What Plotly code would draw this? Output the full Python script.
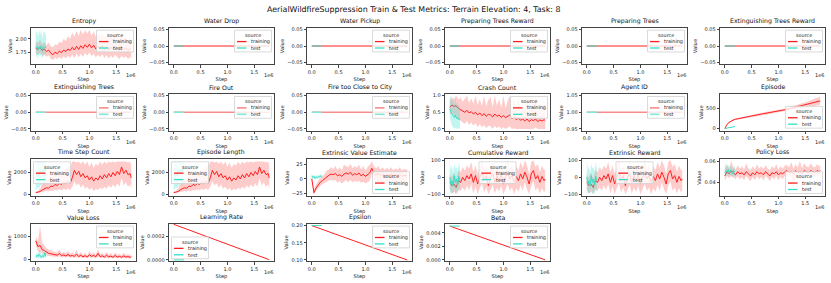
import plotly.graph_objects as go

# ---------------- DATA ----------------
TRAIN_K = [0, 40, 80, 120, 160, 200, 240, 280, 320, 360, 400, 440, 480, 520, 560, 600, 640, 680, 720, 760,
           800, 840, 880, 920, 960, 1000, 1040, 1080, 1120, 1160, 1200, 1240, 1280, 1320, 1360, 1400, 1440,
           1480, 1520, 1560, 1600, 1640, 1680, 1720, 1760, 1780]
TEST_K = [0, 21, 42, 63, 84, 105, 126, 147, 168, 189]
CONST_K = [0, 1780]
CONST_TEST_K = [0, 189]

ENTROPY_TRAIN = [1.82, 1.80, 1.84, 1.78, 1.81, 1.76, 1.79, 1.73, 1.70, 1.75, 1.72, 1.77, 1.74, 1.79, 1.76, 1.81,
                 1.78, 1.84, 1.79, 1.86, 1.80, 1.87, 1.82, 1.89, 1.84, 1.90, 1.83, 1.88, 1.81, 1.86, 1.82, 1.87,
                 1.80, 1.85, 1.79, 1.84, 1.80, 1.86, 1.82, 1.78, 1.84, 1.80, 1.83, 1.78, 1.82, 1.80]
ENTROPY_TRAIN_LO = [1.72, 1.70, 1.74, 1.68, 1.70, 1.66, 1.69, 1.63, 1.60, 1.65, 1.62, 1.66, 1.62, 1.67, 1.63, 1.68,
                    1.64, 1.70, 1.64, 1.72, 1.65, 1.72, 1.66, 1.74, 1.68, 1.75, 1.67, 1.72, 1.65, 1.70, 1.66, 1.71,
                    1.64, 1.69, 1.63, 1.68, 1.64, 1.70, 1.66, 1.62, 1.68, 1.64, 1.67, 1.62, 1.66, 1.64]
ENTROPY_TRAIN_HI = [1.95, 1.92, 1.98, 1.90, 1.94, 1.88, 1.93, 1.86, 1.84, 1.90, 1.88, 1.95, 1.92, 2.00, 1.96, 2.05,
                    2.00, 2.12, 2.04, 2.15, 2.06, 2.17, 2.08, 2.16, 2.10, 2.17, 2.06, 2.14, 2.03, 2.10, 2.05, 2.12,
                    2.02, 2.08, 2.00, 2.06, 2.01, 2.09, 2.04, 1.98, 2.06, 2.01, 2.04, 1.97, 2.02, 1.99]
ENTROPY_TEST = [1.83, 1.86, 1.80, 1.85, 1.82, 1.87, 1.81, 1.84, 1.86, 1.83]
ENTROPY_TEST_LO = [1.64, 1.70, 1.62, 1.72, 1.66, 1.74, 1.63, 1.70, 1.73, 1.68]
ENTROPY_TEST_HI = [2.10, 2.17, 2.02, 2.16, 2.08, 2.17, 2.00, 2.12, 2.15, 2.06]

ZERO_TRAIN = [0.0, 0.0]
ZERO_TEST = [0.0, 0.0]
AGENT_TRAIN = [1.0, 1.0]
AGENT_TEST = [1.0, 1.0]

CRASH_TRAIN = [0.65, 0.72, 0.68, 0.70, 0.62, 0.58, 0.55, 0.50, 0.56, 0.48, 0.52, 0.45, 0.50, 0.42, 0.48, 0.40,
               0.46, 0.38, 0.44, 0.42, 0.36, 0.45, 0.38, 0.42, 0.35, 0.40, 0.34, 0.38, 0.42, 0.30, 0.36, 0.28,
               0.33, 0.26, 0.30, 0.24, 0.30, 0.22, 0.28, 0.25, 0.30, 0.22, 0.27, 0.24, 0.28, 0.25]
CRASH_TRAIN_LO = [0.45, 0.50, 0.42, 0.40, 0.30, 0.25, 0.22, 0.15, 0.25, 0.12, 0.20, 0.10, 0.18, 0.05, 0.15, 0.05,
                  0.12, 0.02, 0.10, 0.08, 0.00, 0.10, 0.02, 0.08, 0.00, 0.05, 0.00, 0.04, 0.08, 0.00, 0.02, 0.00,
                  0.00, 0.00, 0.00, 0.00, 0.02, 0.00, 0.00, 0.00, 0.04, 0.00, 0.00, 0.00, 0.02, 0.00]
CRASH_TRAIN_HI = [0.85, 0.95, 0.90, 1.00, 0.88, 0.95, 0.82, 0.90, 1.00, 0.78, 0.92, 0.75, 1.00, 0.72, 0.90, 0.70,
                  1.00, 0.68, 0.88, 0.95, 0.65, 1.00, 0.70, 0.90, 0.64, 1.00, 0.62, 0.85, 1.00, 0.58, 0.90, 0.55,
                  1.00, 0.52, 0.80, 0.50, 0.95, 0.48, 0.75, 0.55, 1.00, 0.50, 0.78, 0.52, 0.85, 0.50]
CRASH_TEST = [0.60, 0.50, 0.45, 0.40, 0.35, 0.42, 0.30, 0.35, 0.28, 0.30]
CRASH_TEST_LO = [0.35, 0.20, 0.10, 0.05, 0.00, 0.05, 0.00, 0.02, 0.00, 0.00]
CRASH_TEST_HI = [0.90, 1.00, 0.85, 0.90, 0.75, 0.95, 0.70, 0.80, 0.65, 0.70]

EPISODE_TRAIN = [0, 100, 150, 185, 210, 228, 240, 252, 262, 272, 282, 292, 302, 312, 322, 334, 345, 355, 364, 372,
                 382, 390, 400, 410, 420, 430, 440, 450, 460, 472, 484, 496, 508, 520, 532, 545, 558, 570, 584,
                 598, 612, 626, 640, 655, 670, 678]
EPISODE_TRAIN_LO = [0, 90, 138, 171, 195, 212, 223, 234, 243, 252, 261, 270, 278, 286, 292, 299, 305, 311, 319, 330,
                    344, 356, 370, 382, 394, 405, 414, 422, 430, 439, 448, 456, 464, 472, 480, 489, 498, 506, 516,
                    526, 536, 546, 556, 567, 578, 584]
EPISODE_TRAIN_HI = [0, 110, 162, 199, 225, 244, 257, 270, 281, 292, 303, 314, 326, 338, 352, 369, 385, 399, 409, 414,
                    420, 424, 430, 438, 446, 455, 466, 478, 490, 505, 520, 536, 552, 568, 584, 601, 618, 634, 652,
                    670, 690, 710, 730, 752, 775, 785]
EPISODE_TEST = [0, 8, 14, 20, 25, 30, 35, 40, 45, 50]
EPISODE_TEST_LO = [0, 6, 11, 16, 20, 25, 29, 33, 37, 41]
EPISODE_TEST_HI = [0, 10, 17, 24, 30, 35, 41, 47, 53, 59]

STEPS_TRAIN = [150, 180, 250, 400, 500, 600, 550, 750, 700, 900, 800, 1000, 900, 1100, 950, 1200, 1000, 1500, 2200,
               1800, 2100, 1600, 1900, 1500, 1700, 1300, 1600, 1200, 1500, 1300, 1700, 1400, 1800, 1500, 1900,
               1600, 2000, 1700, 2100, 1800, 2500, 1900, 2200, 1800, 1900, 1500]
STEPS_TRAIN_LO = [100, 120, 150, 200, 250, 300, 250, 350, 300, 400, 350, 450, 350, 500, 400, 550, 400, 700, 1200,
                  800, 1000, 600, 900, 500, 700, 400, 600, 300, 500, 400, 600, 450, 700, 500, 800, 600, 900, 650,
                  1000, 700, 1500, 800, 1100, 700, 900, 500]
STEPS_TRAIN_HI = [250, 300, 500, 900, 1200, 1500, 1300, 1700, 1600, 2000, 1800, 2200, 2000, 2400, 2200, 2600, 2400,
                  3000, 3000, 2900, 3000, 2800, 3000, 2700, 3000, 2500, 2900, 2400, 2800, 2600, 3000, 2700, 3000,
                  2800, 3000, 2900, 3000, 2900, 3000, 3000, 3000, 3000, 3000, 2900, 3000, 2600]
STEPS_TEST = [1500, 1800, 2000, 1700, 2200, 1900, 2300, 2000, 2400, 2100]
STEPS_TEST_LO = [300, 500, 700, 400, 900, 600, 1000, 700, 1100, 800]
STEPS_TEST_HI = [3000, 3000, 3000, 3000, 3000, 3000, 3000, 3000, 3000, 3000]

VALUE_EST_TRAIN = [0, -24, -16, -10, -6, -3, 0, 4, 6, 8, 7, 9, 5, 7, 4, 8, 10, 8, 11, 6, 9, 7, 10, 5, 8, 4, 7, 10,
                   18, 8, 6, 9, 5, 8, 4, 7, 5, 8, 4, 7, 5, 8, 4, 6, 5, 6]
VALUE_EST_TRAIN_LO = [0, -28, -21, -16, -12, -9, -7, -4, -3, -2, -3, -2, -7, -4, -8, -5, -2, -6, -2, -6, -4, -5, -4,
                      -7, -5, -8, -6, -4, 8, -5, -6, -4, -7, -5, -8, -6, -7, -5, -8, -6, -7, -5, -8, -7, -7, -6]
VALUE_EST_TRAIN_HI = [2, -18, -10, -3, 1, 4, 8, 14, 16, 20, 17, 22, 15, 20, 14, 24, 22, 20, 26, 18, 22, 19, 24, 16,
                      22, 14, 20, 24, 30, 22, 18, 22, 16, 20, 15, 19, 16, 20, 14, 18, 16, 20, 14, 17, 16, 17]
VALUE_EST_TEST = [5, 2, 4, 1, 3, 2, 4, 3, 5, 4]
VALUE_EST_TEST_LO = [2, -1, 1, -2, 0, -1, 1, 0, 2, 1]
VALUE_EST_TEST_HI = [8, 5, 7, 4, 6, 5, 7, 6, 8, 7]

REWARD_TRAIN = [-30, -50, -40, -60, -20, -30, 0, -20, 10, -10, 20, -30, 10, -40, 0, 30, -20, 10, -50, 0, 20, -30,
                10, -20, 15, -40, 0, 25, -10, 10, -30, 5, -20, 20, -10, 30, 0, -40, 20, 40, -10, 10, -30, 5, -20,
                -10]
REWARD_TRAIN_LO = [-70, -95, -85, -100, -70, -80, -60, -80, -50, -75, -40, -95, -55, -100, -65, -35, -90, -60, -100,
                   -70, -45, -95, -60, -85, -50, -100, -70, -40, -80, -60, -100, -65, -85, -45, -80, -30, -70, -100,
                   -50, -25, -80, -60, -95, -65, -90, -75]
REWARD_TRAIN_HI = [20, 0, 30, -10, 40, 30, 60, 40, 70, 50, 90, 30, 70, 20, 60, 100, 40, 70, 10, 60, 90, 30, 70, 40,
                   80, 20, 60, 100, 50, 75, 30, 65, 40, 90, 55, 100, 70, 20, 90, 100, 60, 80, 30, 70, 40, 50]
REWARD_TEST = [0, -40, -20, -50, 10, -30, -10, -45, 5, -20]
REWARD_TEST_LO = [-80, -100, -90, -100, -60, -100, -80, -100, -70, -90]
REWARD_TEST_HI = [100, 40, 70, 20, 80, 50, 60, 30, 90, 50]

POLICY_TRAIN = [0.046, 0.050, 0.048, 0.051, 0.049, 0.047, 0.050, 0.048, 0.049, 0.047, 0.050, 0.048, 0.046, 0.049,
                0.047, 0.050, 0.048, 0.049, 0.047, 0.050, 0.048, 0.046, 0.049, 0.048, 0.050, 0.047, 0.049, 0.048,
                0.050, 0.051, 0.049, 0.050, 0.048, 0.051, 0.049, 0.050, 0.048, 0.051, 0.050, 0.049, 0.051, 0.050,
                0.049, 0.051, 0.050, 0.051]
POLICY_TRAIN_LO = [0.041, 0.046, 0.044, 0.046, 0.045, 0.043, 0.046, 0.043, 0.045, 0.042, 0.046, 0.043, 0.041, 0.045,
                   0.042, 0.046, 0.043, 0.045, 0.042, 0.046, 0.044, 0.041, 0.045, 0.043, 0.046, 0.042, 0.045, 0.043,
                   0.046, 0.047, 0.045, 0.046, 0.034, 0.047, 0.045, 0.046, 0.044, 0.047, 0.046, 0.045, 0.047, 0.046,
                   0.045, 0.047, 0.046, 0.047]
POLICY_TRAIN_HI = [0.052, 0.057, 0.053, 0.060, 0.054, 0.052, 0.056, 0.053, 0.055, 0.052, 0.058, 0.053, 0.051, 0.055,
                   0.052, 0.057, 0.053, 0.055, 0.052, 0.056, 0.053, 0.051, 0.055, 0.053, 0.057, 0.052, 0.055, 0.053,
                   0.056, 0.056, 0.054, 0.059, 0.053, 0.057, 0.054, 0.060, 0.053, 0.058, 0.055, 0.054, 0.058, 0.055,
                   0.054, 0.057, 0.055, 0.056]
POLICY_TEST = [0.049, 0.051, 0.050, 0.052, 0.049, 0.051, 0.050, 0.048, 0.051, 0.050]
POLICY_TEST_LO = [0.046, 0.047, 0.046, 0.048, 0.045, 0.047, 0.046, 0.044, 0.047, 0.046]
POLICY_TEST_HI = [0.055, 0.058, 0.054, 0.057, 0.053, 0.056, 0.055, 0.052, 0.056, 0.054]

VLOSS_TRAIN = [800, 550, 600, 420, 380, 300, 260, 240, 220, 200, 180, 250, 160, 190, 150, 210, 140, 170, 130, 230,
               120, 180, 110, 160, 100, 200, 130, 170, 110, 260, 120, 150, 100, 180, 110, 140, 90, 170, 100, 130, 90,
               150, 100, 120, 90, 110]
VLOSS_TRAIN_LO = [600, 350, 300, 250, 220, 180, 150, 140, 120, 110, 100, 130, 90, 100, 80, 110, 70, 90, 60, 110, 60,
                  90, 50, 80, 40, 100, 60, 80, 50, 120, 60, 70, 40, 80, 50, 60, 40, 70, 40, 60, 40, 60, 40, 50, 40, 50]
VLOSS_TRAIN_HI = [1000, 800, 1450, 700, 600, 480, 420, 380, 350, 320, 300, 420, 260, 320, 250, 360, 240, 300, 220,
                  400, 210, 320, 200, 280, 180, 350, 230, 300, 200, 450, 220, 270, 180, 320, 200, 260, 170, 310, 190,
                  240, 170, 280, 190, 230, 170, 210]
VLOSS_TEST = [100, 180, 120, 220, 150, 90, 160, 110, 280, 130]
VLOSS_TEST_LO = [30, 60, 40, 80, 50, 20, 60, 30, 120, 40]
VLOSS_TEST_HI = [200, 300, 250, 380, 300, 180, 280, 220, 400, 250]

LR_TRAIN = [0.0003, 0.000002]
LR_TEST = [0.0, 0.0]
EPS_TRAIN = [0.2, 0.1]
EPS_TEST = [0.2, 0.2]
BETA_TRAIN = [0.005, 0.00001]
BETA_TEST = [0.005, 0.005]

TITLE = "AerialWildfireSuppression Train & Test Metrics: Terrain Elevation: 4, Task: 8"
X_TICKS = [0, 500000, 1000000, 1500000]
X_TICKTEXT = ["0.0", "0.5", "1.0", "1.5"]

# ---------------- STYLE / LAYOUT ----------------
W, H = 831, 283
FONT = "DejaVu Sans"
RED = "#ff1f1f"
RED_BAND = "rgba(255,50,50,0.25)"
TEAL = "#33e0c4"
TEAL_BAND = "rgba(64,224,208,0.32)"
PINK = "#f78d8d"
TEAL_LIGHT = "#80e8d6"

COL_LEFT = [31, 169, 307, 445, 582, 720]
COL_W = 105
ROW_TOP = [26, 93, 159, 224]
ROW_BOT = [63, 130, 196, 262]


def px(x):
    return x / W


def py(y):
    return 1 - y / H


tr = [k * 1000 for k in TRAIN_K]
te = [k * 1000 for k in TEST_K]
cs = [k * 1000 for k in CONST_K]
cte = [k * 1000 for k in CONST_TEST_K]

Z = ([-0.05, 0, 0.05], ["\u22120.05", "0.00", "0.05"], [-0.055, 0.055])

panels = [
    dict(t="Entropy", tr=(tr, ENTROPY_TRAIN, ENTROPY_TRAIN_LO, ENTROPY_TRAIN_HI),
         te=(te, ENTROPY_TEST, ENTROPY_TEST_LO, ENTROPY_TEST_HI),
         yt=([1.75, 2.0], ["1.75", "2.00"], [1.52, 2.21]), loc="ur"),
    dict(t="Water Drop", tr=(cs, ZERO_TRAIN), te=(cte, ZERO_TEST), yt=Z, loc="ur"),
    dict(t="Water Pickup", tr=(cs, ZERO_TRAIN), te=(cte, ZERO_TEST), yt=Z, loc="ur"),
    dict(t="Preparing Trees Reward", tr=(cs, ZERO_TRAIN), te=(cte, ZERO_TEST), yt=Z, loc="ur"),
    dict(t="Preparing Trees", tr=(cs, ZERO_TRAIN), te=(cte, ZERO_TEST), yt=Z, loc="ur"),
    dict(t="Extinguishing Trees Reward", tr=(cs, ZERO_TRAIN), te=(cte, ZERO_TEST), yt=Z, loc="ur"),
    dict(t="Extinguishing Trees", tr=(cs, ZERO_TRAIN), te=(cte, ZERO_TEST), yt=Z, loc="ur", light=True),
    dict(t="Fire Out", tr=(cs, ZERO_TRAIN), te=(cte, ZERO_TEST), yt=Z, loc="ur", light=True),
    dict(t="Fire too Close to City", tr=(cs, ZERO_TRAIN), te=(cte, ZERO_TEST), yt=Z, loc="ur", light=True),
    dict(t="Crash Count", tr=(tr, CRASH_TRAIN, CRASH_TRAIN_LO, CRASH_TRAIN_HI),
         te=(te, CRASH_TEST, CRASH_TEST_LO, CRASH_TEST_HI),
         yt=([0, 0.5, 1.0], ["0.0", "0.5", "1.0"], [-0.05, 1.05]), loc="ur"),
    dict(t="Agent ID", tr=(cs, AGENT_TRAIN), te=(cte, AGENT_TEST),
         yt=([0.95, 1.0, 1.05], ["0.95", "1.00", "1.05"], [0.945, 1.055]), loc="ur", light=True),
    dict(t="Episode", tr=(tr, EPISODE_TRAIN, EPISODE_TRAIN_LO, EPISODE_TRAIN_HI),
         te=(te, EPISODE_TEST, EPISODE_TEST_LO, EPISODE_TEST_HI),
         yt=([0, 500], ["0", "500"], [-50, 845]), loc="lr"),
    dict(t="Time Step Count", tr=(tr, STEPS_TRAIN, STEPS_TRAIN_LO, STEPS_TRAIN_HI),
         te=(te, STEPS_TEST, STEPS_TEST_LO, STEPS_TEST_HI),
         yt=([0, 2000], ["0", "2000"], [-150, 3200]), loc="ul"),
    dict(t="Episode Length", tr=(tr, STEPS_TRAIN, STEPS_TRAIN_LO, STEPS_TRAIN_HI),
         te=(te, STEPS_TEST, STEPS_TEST_LO, STEPS_TEST_HI),
         yt=([0, 2000], ["0", "2000"], [-150, 3200]), loc="ul"),
    dict(t="Extrinsic Value Estimate", tr=(tr, VALUE_EST_TRAIN, VALUE_EST_TRAIN_LO, VALUE_EST_TRAIN_HI),
         te=(te, VALUE_EST_TEST, VALUE_EST_TEST_LO, VALUE_EST_TEST_HI),
         yt=([-25, 0, 25], ["\u221225", "0", "25"], [-29.6, 33.5]), loc="lr"),
    dict(t="Cumulative Reward", tr=(tr, REWARD_TRAIN, REWARD_TRAIN_LO, REWARD_TRAIN_HI),
         te=(te, REWARD_TEST, REWARD_TEST_LO, REWARD_TEST_HI),
         yt=([-100, 0, 100], ["\u2212100", "0", "100"], [-110, 106]), loc="uc"),
    dict(t="Extrinsic Reward", tr=(tr, REWARD_TRAIN, REWARD_TRAIN_LO, REWARD_TRAIN_HI),
         te=(te, REWARD_TEST, REWARD_TEST_LO, REWARD_TEST_HI),
         yt=([-100, 0, 100], ["\u2212100", "0", "100"], [-110, 106]), loc="uc"),
    dict(t="Policy Loss", tr=(tr, POLICY_TRAIN, POLICY_TRAIN_LO, POLICY_TRAIN_HI),
         te=(te, POLICY_TEST, POLICY_TEST_LO, POLICY_TEST_HI),
         yt=([0.04, 0.06], ["0.04", "0.06"], [0.0273, 0.0616]), loc="lr"),
    dict(t="Value Loss", tr=(tr, VLOSS_TRAIN, VLOSS_TRAIN_LO, VLOSS_TRAIN_HI),
         te=(te, VLOSS_TEST, VLOSS_TEST_LO, VLOSS_TEST_HI),
         yt=([0, 1000], ["0", "1000"], [-80, 1540]), loc="ur"),
    dict(t="Learning Rate", tr=(cs, LR_TRAIN), te=(cte, LR_TEST),
         yt=([0, 0.0002], ["0.0000", "0.0002"], [-0.000011, 0.000306]), loc="ll"),
    dict(t="Epsilon", tr=(cs, EPS_TRAIN), te=(cte, EPS_TEST),
         yt=([0.10, 0.15, 0.20], ["0.10", "0.15", "0.20"], [0.0963, 0.2058]), loc="ur"),
    dict(t="Beta", tr=(cs, BETA_TRAIN), te=(cte, BETA_TEST),
         yt=([0, 0.002, 0.004], ["0.000", "0.002", "0.004"], [-0.00019, 0.00536]), loc="ur"),
]

fig = go.Figure()
layout = dict(
    width=W, height=H, margin=dict(l=0, r=0, t=0, b=0),
    paper_bgcolor="white", plot_bgcolor="white", showlegend=False,
    font=dict(family=FONT, size=5, color="#222"),
)
shapes = []
annotations = []

LW, LH = 37, 22


def add_legend(left, top, right, bottom, loc, c_train, c_test, lw):
    pad = 2.5
    if loc == "ur":
        x0, y0 = right - pad - LW, top + pad
    elif loc == "ul":
        x0, y0 = left + pad, top + pad
    elif loc == "lr":
        x0, y0 = right - pad - LW, bottom - pad - LH
    elif loc == "ll":
        x0, y0 = left + pad, bottom - pad - LH
    else:  # uc
        x0, y0 = (left + right) / 2 - LW / 2, top + pad
    shapes.append(dict(type="rect", xref="paper", yref="paper", x0=px(x0), x1=px(x0 + LW),
                       y0=py(y0 + LH), y1=py(y0), fillcolor="rgba(255,255,255,0.8)",
                       line=dict(color="#d0d0d0", width=0.8), layer="above"))
    annotations.append(dict(x=px(x0 + LW / 2), y=py(y0 + 4.8), xref="paper", yref="paper", text="source",
                            showarrow=False, xanchor="center", yanchor="middle",
                            font=dict(size=4.9, family=FONT, color="#222")))
    for yy, col, name in [(y0 + 11.5, c_train, "training"), (y0 + 18, c_test, "test")]:
        shapes.append(dict(type="line", xref="paper", yref="paper", x0=px(x0 + 2.5), x1=px(x0 + 12),
                           y0=py(yy), y1=py(yy), line=dict(color=col, width=max(lw, 1.3)), layer="above"))
        annotations.append(dict(x=px(x0 + 14.5), y=py(yy), xref="paper", yref="paper", text=name,
                                showarrow=False, xanchor="left", yanchor="middle",
                                font=dict(size=4.9, family=FONT, color="#222")))


for i, p in enumerate(panels):
    n = i + 1
    r, c = divmod(i, 6)
    left = COL_LEFT[c]
    right = left + COL_W
    top = ROW_TOP[r]
    bottom = ROW_BOT[r]
    xa = "x" if n == 1 else f"x{n}"
    ya = "y" if n == 1 else f"y{n}"
    light = p.get("light", False)
    ctrain = PINK if light else RED
    ctest = TEAL_LIGHT if light else TEAL
    lw = 1.6 if light else 1.0

    # training
    t = p["tr"]
    if len(t) == 4:
        fig.add_trace(go.Scatter(x=t[0], y=t[2], mode="lines", line=dict(width=0, color=RED_BAND),
                                 hoverinfo="skip", xaxis=xa, yaxis=ya))
        fig.add_trace(go.Scatter(x=t[0], y=t[3], mode="lines", line=dict(width=0, color=RED_BAND),
                                 fill="tonexty", fillcolor=RED_BAND, hoverinfo="skip", xaxis=xa, yaxis=ya))
    fig.add_trace(go.Scatter(x=t[0], y=t[1], mode="lines", line=dict(width=lw, color=ctrain),
                             name="training", xaxis=xa, yaxis=ya))
    # test
    t = p["te"]
    if len(t) == 4:
        fig.add_trace(go.Scatter(x=t[0], y=t[2], mode="lines", line=dict(width=0, color=TEAL_BAND),
                                 hoverinfo="skip", xaxis=xa, yaxis=ya))
        fig.add_trace(go.Scatter(x=t[0], y=t[3], mode="lines", line=dict(width=0, color=TEAL_BAND),
                                 fill="tonexty", fillcolor=TEAL_BAND, hoverinfo="skip", xaxis=xa, yaxis=ya))
    fig.add_trace(go.Scatter(x=t[0], y=t[1], mode="lines", line=dict(width=lw, color=ctest),
                             name="test", xaxis=xa, yaxis=ya))

    axis_common = dict(showgrid=False, zeroline=False, showline=True, mirror=True, linecolor="#444",
                       linewidth=0.8, ticks="outside", ticklen=2.5, tickwidth=0.6, tickcolor="#444",
                       tickfont=dict(size=5, family=FONT, color="#222"))
    layout["xaxis" if n == 1 else f"xaxis{n}"] = dict(
        axis_common, domain=[px(left), px(right)], anchor=ya, range=[-89000, 1869000],
        tickvals=X_TICKS, ticktext=X_TICKTEXT,
        title=dict(text="Step", font=dict(size=5.2, family=FONT, color="#222"), standoff=3.5))
    yt = p["yt"]
    layout["yaxis" if n == 1 else f"yaxis{n}"] = dict(
        axis_common, domain=[py(bottom), py(top)], anchor=xa, range=yt[2],
        tickvals=yt[0], ticktext=yt[1],
        title=dict(text="Value", font=dict(size=5.2, family=FONT, color="#222"), standoff=2))

    annotations.append(dict(x=px((left + right) / 2), y=py(top - 1), xref="paper", yref="paper",
                            text=p["t"], showarrow=False, xanchor="center", yanchor="bottom",
                            font=dict(size=6.2, family=FONT, color="#111")))
    annotations.append(dict(x=px(right + 1), y=py(bottom + 11), xref="paper", yref="paper",
                            text="1e6", showarrow=False, xanchor="right", yanchor="middle",
                            font=dict(size=5, family=FONT, color="#222")))
    add_legend(left, top, right, bottom, p["loc"], ctrain, ctest, lw)

annotations.append(dict(x=0.497, y=py(7.5), xref="paper", yref="paper", text=TITLE, showarrow=False,
                        xanchor="center", yanchor="middle", font=dict(size=7.9, family=FONT, color="#111")))

layout["shapes"] = shapes
layout["annotations"] = annotations
fig.update_layout(**layout)
fig.write_html("out.html", config={"displayModeBar": False},
               post_script="document.body.style.margin='0';document.body.style.overflow='hidden';")
